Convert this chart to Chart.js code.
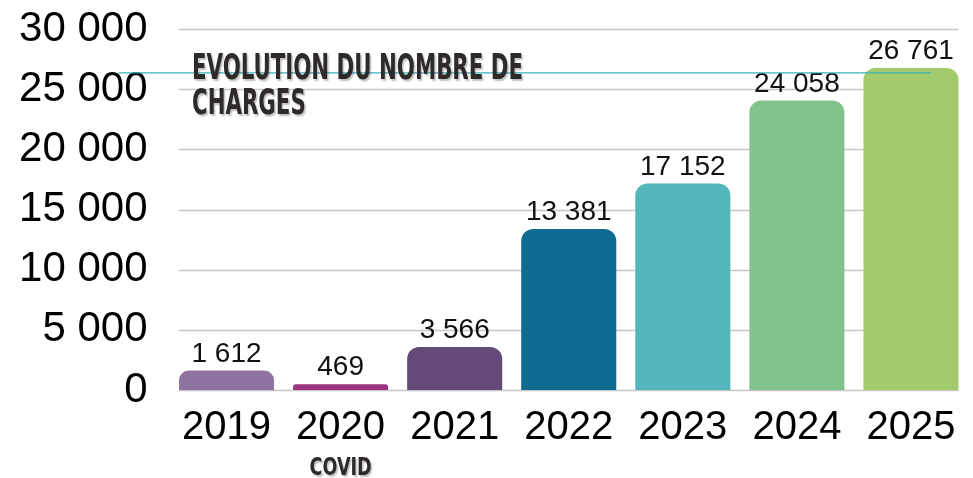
<!DOCTYPE html>
<html>
<head>
<meta charset="utf-8">
<script src="https://cdn.jsdelivr.net/npm/chart.js@4"></script>
<style>
  html,body{margin:0;padding:0;background:#fff;}
  #wrap{width:973px;height:478px;}
</style>
</head>
<body>
<div id="wrap"><canvas id="c" width="973" height="478"></canvas></div>
<script>
const categories = ["2019", "2020", "2021", "2022", "2023", "2024", "2025"];
const subLabels = ["", "COVID", "", "", "", "", ""];
const charges = [1612, 469, 3566, 13381, 17152, 24058, 26761];
const barColors = ["#8E72A0", "#9A3480", "#644A79", "#0E6C93", "#52B6BC", "#80C38C", "#A2CB6E"];
const yTicks = [0, 5000, 10000, 15000, 20000, 25000, 30000];
const titleLines = ["EVOLUTION DU NOMBRE DE", "CHARGES"];
const refLineValue = 26350;

function fmt(v) {
  return String(v).replace(/\B(?=(\d{3})+(?!\d))/g, " ");
}

const handFont = '"Liberation Sans Narrow", "DejaVu Sans Condensed", "Liberation Sans", sans-serif';

function drawSquished(ctx, text, x, y, targetW, font, align) {
  ctx.save();
  ctx.font = font;
  const w = ctx.measureText(text).width;
  const s = targetW / w;
  ctx.translate(x, y);
  ctx.scale(s, 1);
  ctx.textAlign = 'left';
  let ox = 0;
  if (align === 'center') ox = -w / 2;
  ctx.fillText(text, ox, 0);
  ctx.restore();
}

const decoPlugin = {
  id: 'deco',
  beforeDatasetsDraw(chart) {
    const ctx = chart.ctx;
    const y = chart.scales.y;
    const meta = chart.getDatasetMeta(0);
    const first = meta.data[0], last = meta.data[meta.data.length - 1];
    const x0 = first.x - first.width / 2;
    const x1 = last.x + last.width / 2;
    ctx.save();
    ctx.strokeStyle = '#C6C6C6';
    ctx.lineWidth = 1.4;
    y.ticks.forEach(t => {
      const py = Math.round(y.getPixelForValue(t.value)) + 0.5;
      ctx.beginPath();
      ctx.moveTo(x0, py);
      ctx.lineTo(x1, py);
      ctx.stroke();
    });
    ctx.restore();
  },
  afterDatasetsDraw(chart) {
    const ctx = chart.ctx;
    const meta = chart.getDatasetMeta(0);
    const area = chart.chartArea;
    const ys = chart.scales.y;
    const xs = chart.scales.x;
    // value labels
    ctx.save();
    ctx.fillStyle = '#111';
    ctx.font = '28px "Liberation Sans", Arial, sans-serif';
    ctx.textAlign = 'center';
    ctx.textBaseline = 'alphabetic';
    meta.data.forEach((bar, i) => {
      ctx.fillText(fmt(charges[i]), bar.x, bar.y - 9);
    });
    ctx.restore();
    // decorative teal line
    ctx.save();
    ctx.strokeStyle = '#3DB0B8';
    ctx.lineWidth = 1.3;
    const ly = ys.getPixelForValue(refLineValue);
    ctx.beginPath();
    ctx.moveTo(area.left - 51, ly);
    ctx.lineTo(area.right - 37, ly);
    ctx.stroke();
    ctx.restore();
    // title
    ctx.save();
    ctx.fillStyle = '#2E2A2A';
    ctx.shadowColor = 'rgba(0,0,0,0.25)';
    ctx.shadowOffsetX = 1.5;
    ctx.shadowOffsetY = 2;
    ctx.shadowBlur = 1.5;
    ctx.textBaseline = 'alphabetic';
    const tf = '600 36px ' + handFont;
    const tx = area.left + 22.5;
    drawSquished(ctx, titleLines[0], tx, 79, 331, tf, 'left');
    ctx.font = tf;
    const w0 = ctx.measureText(titleLines[0]).width;
    const s = 331 / w0;
    const w1 = ctx.measureText(titleLines[1]).width * s;
    drawSquished(ctx, titleLines[1], tx, 114, w1, tf, 'left');
    // sub labels (COVID)
    const sf = '600 24px ' + handFont;
    subLabels.forEach((lab, i) => {
      if (!lab) return;
      drawSquished(ctx, lab, xs.getPixelForValue(i), 475, 62, sf, 'center');
    });
    ctx.restore();
  }
};

new Chart(document.getElementById('c'), {
  type: 'bar',
  data: {
    labels: categories,
    datasets: [{
      data: charges,
      backgroundColor: barColors,
      borderWidth: 0,
      borderRadius: 12,
      categoryPercentage: 1.0,
      barPercentage: 95 / 114
    }]
  },
  options: {
    responsive: false,
    animation: false,
    devicePixelRatio: 1,
    layout: { padding: { top: 29, right: 5, left: 0, bottom: 0 } },
    plugins: {
      legend: { display: false },
      tooltip: { enabled: false },
      title: { display: false }
    },
    scales: {
      x: {
        grid: { display: false, drawTicks: false },
        border: { display: false },
        ticks: {
          color: '#000',
          font: { family: '"Liberation Sans", Arial, sans-serif', size: 40 },
          padding: 14
        },
        afterFit(scale) { scale.height = 88; }
      },
      y: {
        min: 0,
        max: 30000,
        afterBuildTicks(scale) { scale.ticks = yTicks.map(v => ({ value: v })); },
        grid: { display: false, drawTicks: false },
        border: { display: false },
        ticks: {
          color: '#000',
          font: { family: '"Liberation Sans", Arial, sans-serif', size: 42 },
          padding: 22,
          callback: v => fmt(v)
        },
        afterFit(scale) {
          scale.width = 169.5;
          scale.paddingTop = 0;
          scale.paddingBottom = 0;
        }
      }
    }
  },
  plugins: [decoPlugin]
});
</script>
</body>
</html>
